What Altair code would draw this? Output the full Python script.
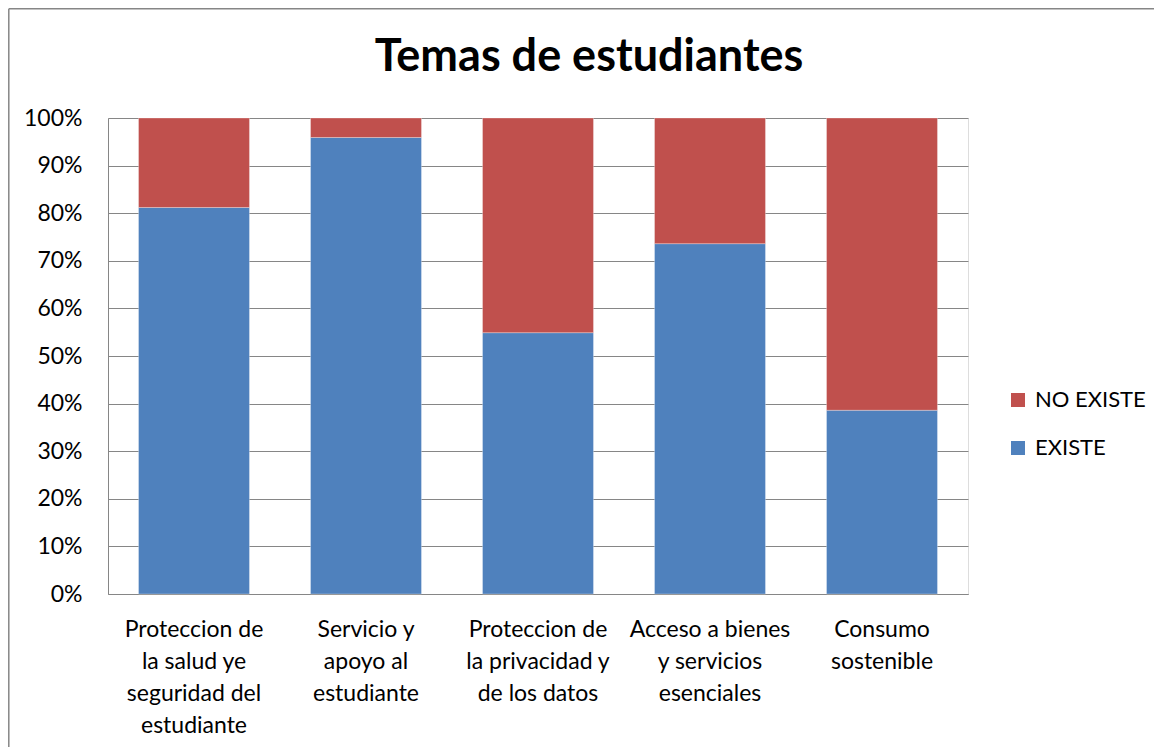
import altair as alt
import pandas as pd

title_text = "Temas de estudiantes"
categories = [
    "Proteccion de|la salud ye|seguridad del|estudiante",
    "Servicio y|apoyo al|estudiante",
    "Proteccion de|la privacidad y|de los datos",
    "Acceso a bienes|y servicios|esenciales",
    "Consumo|sostenible",
]
existe = [0.812, 0.959, 0.549, 0.736, 0.386]
no_existe = [round(1 - v, 3) for v in existe]
series = ["NO EXISTE", "EXISTE"]
colors = ["#C0504D", "#4F81BD"]
y_ticks = [0, 0.1, 0.2, 0.3, 0.4, 0.5, 0.6, 0.7, 0.8, 0.9, 1.0]

rows = []
for c, e, n in zip(categories, existe, no_existe):
    rows.append({"cat": c, "serie": "EXISTE", "val": e, "ord": 0})
    rows.append({"cat": c, "serie": "NO EXISTE", "val": n, "ord": 1})
df = pd.DataFrame(rows)

FONT = "Lato"
GRID = "#868686"

bars = alt.Chart(df).mark_bar(stroke="#ffffff", strokeWidth=0.6, strokeOpacity=0.5).encode(
    x=alt.X("cat:N", sort=categories,
            scale=alt.Scale(paddingInner=0.355, paddingOuter=0.1775),
            axis=alt.Axis(title=None, labelAngle=0, ticks=False, labelPadding=24,
                          labelExpr="split(datum.label, '|')", labelLineHeight=32,
                          labelFontSize=23, labelColor="#000000", labelFont=FONT,
                          domainColor=GRID, domainWidth=1, grid=False,
                          labelLimit=300)),
    y=alt.Y("val:Q", stack="zero",
            scale=alt.Scale(domain=[0, 1], nice=False),
            axis=alt.Axis(title=None, values=y_ticks, format=".0%", ticks=False,
                          labelPadding=26, labelFontSize=23, labelColor="#000000",
                          labelFont=FONT, domainColor=GRID, domainWidth=1,
                          grid=True, gridColor=GRID, gridWidth=1, gridOpacity=1)),
    color=alt.Color("serie:N", sort=series,
                    scale=alt.Scale(domain=series, range=colors),
                    legend=alt.Legend(title=None, orient="none", legendX=899, legendY=271,
                                      symbolType="square", symbolSize=196,
                                      symbolStrokeWidth=0, labelFontSize=22,
                                      labelFont=FONT, labelColor="#000000",
                                      labelOffset=6, rowPadding=26, padding=0)),
    order=alt.Order("ord:Q"),
)

one = pd.DataFrame({"a": [0]})
border_left = alt.Chart(one).mark_rule(color=GRID, strokeWidth=1.5).encode(
    x=alt.value(-99.2), y=alt.value(-109.2), y2=alt.value(800))
border_top = alt.Chart(one).mark_rule(color=GRID, strokeWidth=1.5).encode(
    y=alt.value(-109.2), x=alt.value(-99.2), x2=alt.value(1200))

title = alt.Chart(pd.DataFrame({"t": [title_text]})).mark_text(
    font=FONT, fontSize=45, fontWeight="bold", color="#000000",
    align="center", baseline="alphabetic"
).encode(text="t:N", x=alt.value(481), y=alt.value(-47))

chart = alt.layer(border_left, border_top, bars, title).properties(
    width=860, height=476,
    padding={"left": 100, "top": 110, "right": 186, "bottom": 153},
    autosize="none",
).configure_view(stroke=None).configure(background="#ffffff")

chart.save("out.html", embed_options={"renderer": "svg", "actions": False})
